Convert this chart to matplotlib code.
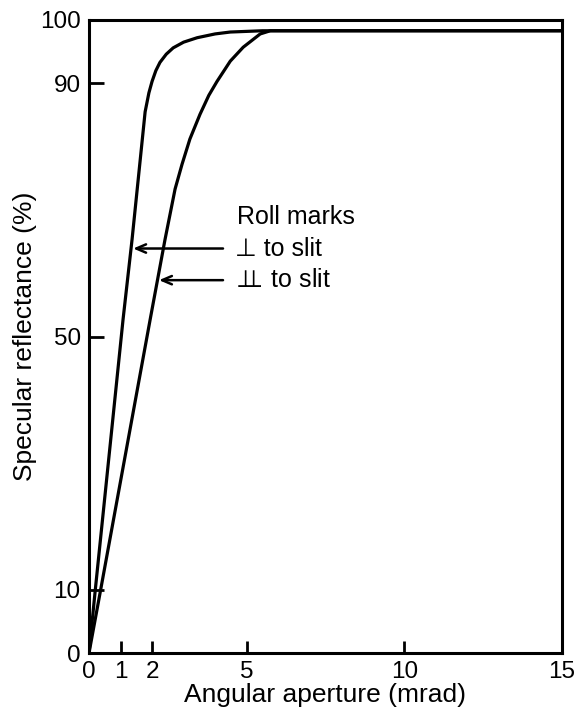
import matplotlib
matplotlib.use("Agg")
import matplotlib.pyplot as plt

# values (x in mrad, y in %)
perp_x = [0, 0.2, 1.08, 1.365, 1.78, 1.9, 2.0, 2.12, 2.25, 2.45, 2.67, 3.0, 3.43, 4.0, 4.48, 5.5, 15]
perp_y = [0, 10, 52.7, 65.3, 85.5, 88.5, 90.3, 92.0, 93.3, 94.6, 95.6, 96.5, 97.2, 97.8, 98.1, 98.3, 98.3]

par_x = [0, 0.37, 1.94, 2.41, 2.57, 2.73, 2.95, 3.2, 3.52, 3.8, 4.06, 4.48, 4.89, 5.43, 5.75, 15]
par_y = [0, 10, 52.7, 65.3, 69.3, 73.3, 77.2, 81.2, 85.1, 88.1, 90.3, 93.5, 95.7, 97.8, 98.3, 98.3]

xticks = [0, 1, 2, 5, 10, 15]
yticks = [0, 10, 50, 90, 100]

fam = ["Liberation Sans", "DejaVu Sans"]
plt.rcParams["font.family"] = fam
plt.rcParams["mathtext.fontset"] = "dejavusans"

fig = plt.figure(figsize=(5.76, 7.10), dpi=100)
ax = fig.add_axes([89 / 576, 1 - 653 / 710, (562 - 89) / 576, (653 - 20) / 710])

ax.plot(perp_x, perp_y, color="black", lw=2.3, solid_capstyle="round", solid_joinstyle="round")
ax.plot(par_x, par_y, color="black", lw=2.3, solid_capstyle="round", solid_joinstyle="round")

ax.set_xlim(0, 15)
ax.set_ylim(0, 100)
ax.set_xticks(xticks)
ax.set_yticks(yticks)
ax.tick_params(axis="x", direction="in", length=9, width=2, pad=6, labelsize=17.5)
ax.tick_params(axis="y", direction="in", length=11, width=2, pad=6, labelsize=17.5)
for s in ax.spines.values():
    s.set_linewidth(2.2)

ax.set_xlabel("Angular aperture (mrad)", fontsize=19, labelpad=0)
ax.set_ylabel("Specular reflectance (%)", fontsize=19, labelpad=2)

ax.text(4.70, 68.8, "Roll marks", fontsize=18, va="center", ha="left")
ax.text(4.63, 63.8, "\u22a5 to slit", fontsize=18, va="center", ha="left")
# double up tack drawn as two overlapping tacks (no installed font has U+2AEB)
ax.text(4.55, 59.0, r"${\perp}\hspace{-0.8}{\perp}\,$to slit", fontsize=18, va="center", ha="left")

arr = dict(arrowstyle="->,head_length=0.7,head_width=0.3", color="black", lw=1.8,
           shrinkA=0, shrinkB=0)
ax.annotate("", xy=(1.40, 63.9), xytext=(4.25, 63.9), arrowprops=arr)
ax.annotate("", xy=(2.22, 58.9), xytext=(4.25, 58.9), arrowprops=arr)

fig.savefig("out.png", dpi=100)
